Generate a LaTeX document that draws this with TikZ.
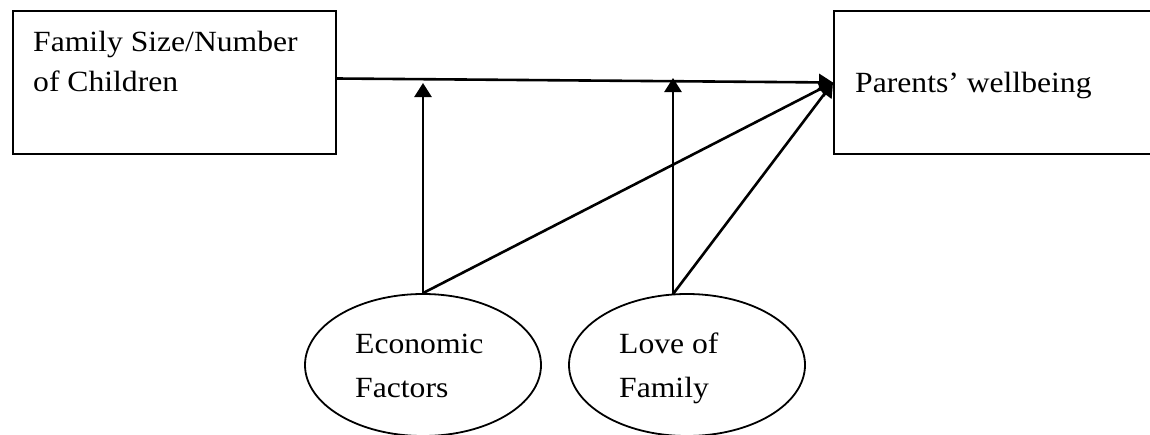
\documentclass[tikz,border=0pt]{standalone}
\usepackage{fontspec}
\setmainfont{Liberation Serif}[FakeStretch=1.08]
\usetikzlibrary{arrows.meta,shapes.geometric}
\newcommand\twolines[3]{\vtop{\baselineskip=#1\hbox{#2}\hbox{#3}}}
\tikzset{
  box/.style={draw, line width=2pt, rectangle, inner sep=0pt, anchor=north west},
  oval/.style={draw, line width=1.8pt, ellipse, inner sep=0pt, minimum width=236pt, minimum height=142pt},
  txt/.style={anchor=base west, inner sep=0pt, font=\fontsize{29.3pt}{40pt}\selectfont},
  arr/.style={line width=2.6pt, -{Triangle[length=14pt,width=17pt]}}
}
\begin{document}
\begin{tikzpicture}[x=1pt,y=-1pt]
\useasboundingbox[fill=white] (0,0) rectangle (1150,434);
% boxes
\node[box, minimum width=323pt, minimum height=143pt] (fam) at (12,10) {};
\node[box, minimum width=340pt, minimum height=143pt] (par) at (833,10) {};
% ellipses
\node[oval] (eco) at (423,365) {};
\node[oval] (love) at (687,365) {};
% texts
\node[txt] (famtext) at (33,51) {\twolines{40pt}{Family Size/Number}{of Children}};
\node[txt] (partext) at (855,92) {Parents’ wellbeing};
\node[txt] (ecotext) at (355,353) {\twolines{44pt}{Economic}{Factors}};
\node[txt] (lovetext) at (619,353) {\twolines{44pt}{Love of}{Family}};
% helper coordinates
\coordinate (ecostart) at (eco.north);
\coordinate (lovestart) at ([xshift=-14pt,yshift=-1pt]love.north);
\coordinate (ecotip) at (423,83);
\coordinate (lovetip) at (673,78);
% connectors
\draw[arr] ([yshift=4pt]fam.east) -- (par.west);
\draw[arr] (ecostart) -- (ecotip);
\draw[arr] (lovestart) -- (lovetip);
\draw[arr] (ecostart) -- (par.west);
\draw[arr] (lovestart) -- (par.west);
\end{tikzpicture}
\end{document}
